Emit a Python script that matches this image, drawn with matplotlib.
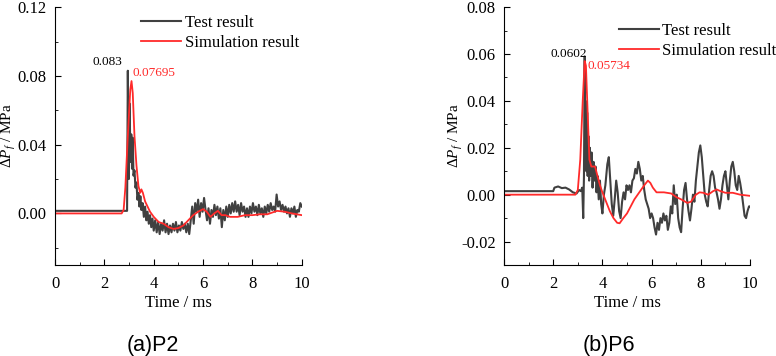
import matplotlib
matplotlib.use('Agg')
import matplotlib.pyplot as plt
from matplotlib.ticker import MultipleLocator, FormatStrFormatter

# ---- P2 data ----
p2_test_t = [0, 2.88, 2.92, 2.95, 2.99, 3.02, 3.06, 3.09, 3.12, 3.15, 3.18, 3.22, 3.26, 3.30, 3.34,
             3.38, 3.42, 3.46, 3.50, 3.55, 3.60, 3.65, 3.70, 3.75, 3.80, 3.85, 3.90, 3.95, 4.00,
             4.06, 4.12, 4.18, 4.24, 4.30, 4.36, 4.42, 4.48, 4.54, 4.60, 4.66, 4.72, 4.78, 4.84,
             4.90, 4.96, 5.02, 5.08, 5.14, 5.20, 5.26, 5.32, 5.38, 5.44, 5.50, 5.56, 5.62, 5.68,
             5.74, 5.80, 5.86, 5.92, 5.98, 6.04, 6.10, 6.16, 6.22, 6.28, 6.34, 6.40, 6.46, 6.52,
             6.58, 6.64, 6.70, 6.76, 6.82, 6.88, 6.94, 7.00, 7.06, 7.12, 7.18, 7.24, 7.30, 7.36,
             7.42, 7.48, 7.54, 7.60, 7.66, 7.72, 7.78, 7.84, 7.90, 7.96, 8.02, 8.08, 8.14, 8.20,
             8.26, 8.32, 8.38, 8.44, 8.50, 8.56, 8.62, 8.68, 8.74, 8.80, 8.86, 8.92, 8.98, 9.04,
             9.10, 9.16, 9.22, 9.28, 9.34, 9.40, 9.46, 9.52, 9.58, 9.64, 9.70, 9.76, 9.82, 9.88,
             9.94, 10.0]
p2_test_v = [0.0015, 0.0015, 0.0015, 0.083, 0.02, 0.064, 0.03, 0.046, 0.026, 0.044, 0.022, 0.025,
             0.015, 0.018, 0.008, 0.012, 0.004, 0.010, 0.002, 0.006, -0.002, 0.004, -0.004, 0.001,
             -0.006, -0.001, -0.008, -0.003, -0.010, -0.004, -0.011, -0.005, -0.012, -0.006, -0.010,
             -0.004, -0.011, -0.006, -0.012, -0.007, -0.011, -0.006, -0.010, -0.005, -0.011, -0.007,
             -0.010, -0.005, -0.009, -0.006, -0.011, -0.006, -0.012, -0.004, 0.004, -0.006, 0.006,
             0.001, 0.008, -0.002, 0.006, 0.001, 0.009, 0.002, -0.004, 0.003, -0.006, 0.002, -0.002,
             0.005, -0.001, 0.004, -0.003, 0.003, -0.008, 0.002, -0.004, 0.004, -0.002, 0.005, 0.0,
             0.006, 0.001, 0.007, 0.001, 0.005, -0.001, 0.006, 0.001, 0.004, -0.002, 0.003, -0.002,
             0.004, 0.0, 0.006, 0.001, 0.004, -0.001, 0.005, 0.0, 0.003, -0.002, 0.004, 0.0, 0.005,
             0.001, 0.006, 0.002, 0.004, 0.001, 0.011, 0.004, 0.007, 0.002, 0.005, 0.001, 0.004,
             0.0, 0.003, -0.002, 0.003, 0.0, 0.004, -0.002, 0.002, 0.001, 0.006, 0.004]
p2_sim_t = [0, 2.7, 2.78, 2.85, 2.95, 3.05, 3.1, 3.15, 3.22, 3.3, 3.38, 3.45, 3.5, 3.56, 3.65, 3.75,
            3.85, 4.0, 4.2, 4.4, 4.6, 4.8, 5.0, 5.2, 5.4, 5.6, 5.8, 6.0, 6.15, 6.3, 6.45, 6.6, 6.75,
            6.9, 7.1, 7.4, 7.7, 8.0, 8.3, 8.6, 9.0, 9.3, 9.6, 10]
p2_sim_v = [0, 0, 0.002, 0.015, 0.045, 0.072, 0.077, 0.07, 0.045, 0.028, 0.016, 0.012, 0.014, 0.012,
            0.007, 0.004, 0.001, -0.002, -0.005, -0.006, -0.008, -0.009, -0.0085, -0.007, -0.004,
            -0.001, 0.001, 0.0025, 0.001, -0.002, 0.0, 0.0015, -0.001, -0.001, -0.002, -0.002,
            -0.001, -0.001, -0.0005, -0.0005, 0.0015, 0.001, 0.0, -0.001]

# ---- P6 data ----
p6_test_t = [0, 2.0, 2.05, 2.2, 2.35, 2.5, 2.65, 2.8, 2.95, 3.05, 3.12, 3.18, 3.22, 3.25, 3.28, 3.3,
             3.32, 3.35, 3.38, 3.4, 3.43, 3.46, 3.49, 3.52, 3.56, 3.6, 3.64, 3.68, 3.72, 3.76, 3.8,
             3.85, 3.9, 3.95, 4.0, 4.06, 4.12, 4.2, 4.26, 4.32, 4.38, 4.44, 4.5, 4.56, 4.62, 4.68,
             4.74, 4.8, 4.86, 4.92, 4.98, 5.04, 5.1, 5.16, 5.22, 5.28, 5.34, 5.4, 5.46, 5.52, 5.58,
             5.64, 5.7, 5.76, 5.82, 5.88, 5.94, 6.0, 6.06, 6.12, 6.18, 6.24, 6.3, 6.36, 6.42, 6.48,
             6.54, 6.6, 6.66, 6.72, 6.78, 6.84, 6.9, 6.96, 7.02, 7.08, 7.14, 7.2, 7.26, 7.32, 7.38,
             7.44, 7.5, 7.56, 7.62, 7.68, 7.74, 7.8, 7.86, 7.92, 7.98, 8.04, 8.1, 8.16, 8.22, 8.28,
             8.34, 8.4, 8.46, 8.52, 8.58, 8.64, 8.7, 8.76, 8.82, 8.88, 8.94, 9.0, 9.06, 9.12, 9.18,
             9.24, 9.3, 9.36, 9.42, 9.48, 9.54, 9.6, 9.66, 9.72, 9.78, 9.84, 9.9, 9.96, 10]
p6_test_v = [0.0015, 0.0015, 0.003, 0.0035, 0.0028, 0.003, 0.0022, 0.001, 0.0005, 0.002, 0.0015,
             0.003, -0.010, 0.008, 0.059, 0.02, 0.04, 0.01, 0.035, 0.008, 0.025, 0.006, 0.02, 0.008,
             0.018, 0.003, 0.014, 0.006, 0.012, 0.001, 0.008, -0.002, 0.006, -0.004, -0.008, 0.0,
             0.004, 0.013, 0.016, 0.006, -0.004, -0.009, -0.002, 0.006, 0.001, -0.007, -0.010,
             -0.003, 0.001, -0.002, 0.004, 0.002, 0.004, 0.001, 0.006, 0.007, 0.011, 0.009, 0.014,
             0.011, 0.006, 0.008, 0.002, -0.002, -0.004, -0.006, -0.010, -0.008, -0.010, -0.014,
             -0.017, -0.012, -0.015, -0.010, -0.012, -0.008, -0.011, -0.009, -0.015, -0.012, -0.005,
             -0.008, 0.004, -0.004, 0.0, -0.010, -0.014, -0.016, -0.006, 0.002, 0.005, -0.002,
             -0.007, -0.011, -0.006, 0.0, -0.003, 0.006, 0.012, 0.018, 0.021, 0.016, 0.008, 0.0,
             -0.003, -0.005, 0.002, 0.008, 0.010, 0.008, 0.003, 0.001, -0.002, -0.006, -0.002, 0.004,
             0.008, 0.010, 0.004, -0.002, 0.006, 0.012, 0.014, 0.010, 0.004, 0.002, 0.008, 0.005,
             0.001, -0.004, -0.009, -0.010, -0.007, -0.005, -0.005]
p6_sim_t = [0, 2.9, 3.0, 3.1, 3.2, 3.28, 3.33, 3.4, 3.47, 3.55, 3.62, 3.7, 3.8, 3.9, 4.0, 4.15, 4.3,
            4.45, 4.6, 4.7, 4.85, 5.0, 5.15, 5.3, 5.5, 5.7, 5.85, 5.95, 6.05, 6.2, 6.5, 6.8, 7.0, 7.2,
            7.45, 7.6, 7.8, 7.95, 8.1, 8.3, 8.5, 8.65, 8.8, 9.0, 9.3, 9.6, 10]
p6_sim_v = [0, 0, 0.002, 0.015, 0.04, 0.057, 0.055, 0.035, 0.015, 0.012, 0.012, 0.012, 0.008, 0.004,
            0.001, -0.003, -0.007, -0.010, -0.012, -0.0122, -0.010, -0.008, -0.005, -0.002, 0.001,
            0.004, 0.006, 0.005, 0.003, 0.001, 0.001, 0.0005, -0.001, -0.002, -0.0035, -0.003, 0.0,
            0.001, 0.0008, 0.0, 0.0015, 0.0022, 0.0015, 0.0008, 0.0008, 0.0, -0.0005]

plt.rcParams['font.family'] = 'Liberation Serif'
plt.rcParams['mathtext.fontset'] = 'custom'
plt.rcParams['mathtext.rm'] = 'Liberation Serif'
plt.rcParams['mathtext.it'] = 'Liberation Serif:italic'

test_col = '#404040'
sim_col = '#ff2a2a'

fig = plt.figure(figsize=(7.76, 3.56), dpi=100)
ax1 = fig.add_axes([0.0709, 0.2556, 0.318, 0.7244])
ax2 = fig.add_axes([0.6495, 0.2556, 0.317, 0.7244])

# ax, test, sim, ylim, major, minor, labels/offsets, ylabel x, legend anchor, caption x
panels = [
    (ax1, p2_test_t, p2_test_v, p2_sim_t, p2_sim_v, (-0.03, 0.12), 0.04, 0.02,
     '0.083', (2.95, 0.083), (-4, 6), '0.07695', (3.1, 0.077), (1, 6),
     -0.148, (1.035, 1.015), '(a)P2', 153),
    (ax2, p6_test_t, p6_test_v, p6_sim_t, p6_sim_v, (-0.03, 0.08), 0.02, 0.01,
     '0.0602', (3.28, 0.0602), (2, 0), '0.05734', (3.3, 0.05734), (2, -4),
     -0.16, (1.155, 0.985), '(b)P6', 609),
]

for (ax, tt, tv, st, sv, ylim, ymaj, ymin, lab1, pk1, off1, lab2, pk2, off2,
     ylx, leg_anchor, cap, cap_x) in panels:
    ax.plot(tt, tv, color=test_col, lw=1.5, label='Test result')
    ax.plot(st, sv, color=sim_col, lw=1.3, label='Simulation result')
    ax.set_xlim(0, 10)
    ax.set_ylim(*ylim)
    ax.xaxis.set_major_locator(MultipleLocator(2))
    ax.xaxis.set_minor_locator(MultipleLocator(1))
    ax.yaxis.set_major_locator(MultipleLocator(ymaj))
    ax.yaxis.set_minor_locator(MultipleLocator(ymin))
    ax.yaxis.set_major_formatter(FormatStrFormatter('%.2f'))
    ax.tick_params(which='both', direction='in', labelsize=12)
    ax.tick_params(which='major', length=4)
    ax.tick_params(which='minor', length=2.5)
    ax.tick_params(axis='x', which='major', pad=8)
    ax.tick_params(axis='y', which='major', pad=6)
    ax.spines['top'].set_visible(False)
    ax.spines['right'].set_visible(False)
    ax.set_xlabel('Time / ms', fontsize=12, labelpad=2)
    ax.set_ylabel(r'$\Delta P_f$ / MPa', fontsize=11)
    ax.yaxis.set_label_coords(ylx, 0.5)
    ax.annotate(lab1, xy=pk1, xytext=off1, textcoords='offset points',
                ha='right', va='center', fontsize=9.5, color='black')
    ax.annotate(lab2, xy=pk2, xytext=off2, textcoords='offset points',
                ha='left', va='center', fontsize=9.5, color=sim_col)
    ax.legend(loc='upper right', frameon=False, fontsize=12, handlelength=2.4,
              handletextpad=0.2, labelspacing=0.25, borderaxespad=0.3,
              bbox_to_anchor=leg_anchor)
    fig.text(cap_x / 776, 1 - 345 / 356, cap, ha='center', va='center',
             fontsize=15.5, family='Liberation Sans')

fig.savefig('out.png', dpi=100)
